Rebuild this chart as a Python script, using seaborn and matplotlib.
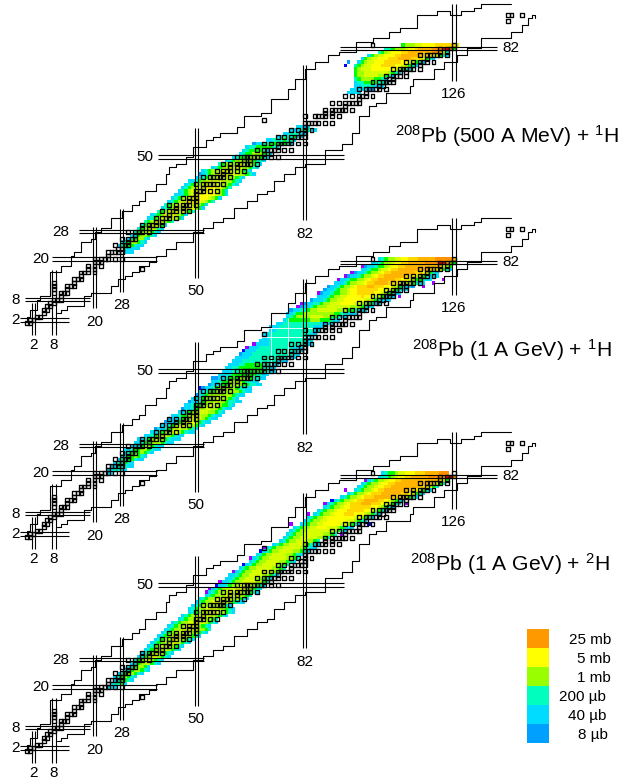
import numpy as np
import pandas as pd
import seaborn as sns
import matplotlib
matplotlib.use("Agg")
import matplotlib.pyplot as plt
from matplotlib.colors import ListedColormap

sns.set_theme(style="white")
plt.rcParams['font.family'] = ['Liberation Sans', 'DejaVu Sans']
plt.rcParams['mathtext.default'] = 'regular'

# colour levels, one letter per level in the row strings below
level_letters = "abcdefghijklm"
level_colors = ["#a000ff", "#0000ff", "#00a0ff", "#00dcff", "#00ffbe", "#00ff00", "#a0ff00",
                "#d8ff00", "#ffff00", "#ffd800", "#ffb400", "#ff9000", "#ff0000"]

legend_labels = ["25 mb", "5 mb", "1 mb", "200 µb", "40 µb", "8 µb"]
legend_colors = ["#ff9900", "#ffff00", "#99ff00", "#00ffbe", "#00dcff", "#00a0ff"]

magic_n = [2, 8, 20, 28, 50, 82, 126]
magic_n_zlow = [-2.4, -2.4, 5.5, 10.2, 14.4, 31.5, 72.4]
magic_n_zhigh = [7, 16.7, 29.4, 34.7, 58.6, 77.1, 95]
magic_n_labelz = [-5.4, -5.4, 1.4, 6.4, 10.5, 27.3, 68.6]

magic_z = [2, 8, 20, 28, 50, 82]
magic_z_nlow = [-2, -0.5, 7.5, 15.4, 38.7, 92.4]
magic_z_nhigh = [12.5, 18.7, 38.4, 52.3, 93.6, 138.7]
magic_z_labeln = [-3.2, -3.2, 4.2, 10.1, 34.9, 142.9]

# limits of the known nuclides
upper_n = [0, 1, 3, 4, 7, 7, 10, 13, 14, 16, 19, 20, 22, 25, 28, 31, 33, 35, 38, 41, 42, 44, 47, 49, 53, 55, 57,
           62, 64, 69, 72, 77, 79, 82, 85, 89, 92, 97, 102, 107, 110, 115, 121, 125, 128, 132, 134, 137, 143]
upper_z = [2, 3, 5, 8, 9, 15, 16, 18, 21, 22, 25, 26, 28, 29, 32, 34, 36, 37, 40, 42, 45, 47, 48, 50, 53, 55, 56,
           57, 59, 62, 63, 67, 70, 73, 76, 78, 80, 81, 84, 85, 87, 88, 92, 93, 92, 93, 94, 95, 95]
lower_n = [9, 10, 12, 16, 17, 19, 22, 25, 27, 29, 31, 33, 36, 38, 41, 44, 49, 52, 55, 58, 61, 65, 68, 71, 73, 76, 79,
           82, 88, 93, 96, 96, 98, 98, 101, 103, 106, 113, 114, 120, 123, 127, 130, 133, 134, 143, 146, 146, 148, 149, 150]
lower_z = [4, 5, 6, 6, 9, 10, 10, 12, 14, 15, 16, 18, 19, 21, 23, 25, 28, 29, 31, 32, 35, 37, 39, 40, 43, 45, 47,
           48, 52, 54, 56, 57, 60, 62, 65, 66, 69, 71, 73, 76, 78, 80, 82, 82, 85, 87, 87, 89, 91, 92, 91]

# stable isotopes, Z -> neutron numbers
stable = {1: [0, 1], 2: [1, 2], 3: [3, 4], 4: [5], 5: [5, 6], 6: [6, 7], 7: [7, 8], 8: [8, 9, 10], 9: [10],
          10: [8, 10, 11, 12], 11: [8, 12], 12: [8, 12, 13, 14], 13: [8, 14], 14: [14, 15, 16], 15: [16],
          16: [16, 17, 18, 20], 17: [18, 20, 34], 18: [18, 20, 22], 19: [20, 21, 22], 20: [20, 22, 23, 24, 26, 28],
          21: [24], 22: [24, 25, 26, 27, 28], 23: [27, 28], 24: [26, 28, 29, 30], 25: [30], 26: [28, 30, 31, 32],
          27: [32], 28: [30, 32, 33, 34, 36], 29: [34, 36], 30: [34, 36, 37, 38, 40], 31: [38, 40],
          32: [38, 40, 41, 42, 44], 33: [42], 34: [40, 42, 43, 44, 46, 48], 35: [44, 46], 36: [42, 44, 46, 47, 48, 50],
          37: [48, 50], 38: [46, 48, 49, 50], 39: [50], 40: [50, 51, 52, 54, 56], 41: [52],
          42: [50, 52, 53, 54, 55, 56, 58], 44: [52, 54, 55, 56, 57, 58, 60], 45: [58], 46: [56, 58, 59, 60, 62, 64],
          47: [60, 62], 48: [58, 60, 62, 63, 64, 65, 66, 68], 49: [64, 66],
          50: [62, 64, 65, 66, 67, 68, 69, 70, 72, 74], 51: [70, 72], 52: [68, 70, 71, 72, 73, 74, 76, 78], 53: [74],
          54: [70, 72, 74, 75, 76, 77, 78, 80, 82], 55: [78], 56: [74, 76, 78, 79, 80, 81, 82], 57: [81, 82],
          58: [78, 80, 82, 84], 59: [82], 60: [82, 83, 84, 85, 86, 88, 90], 61: [70],
          62: [82, 85, 86, 87, 88, 90, 92], 63: [88, 90], 64: [88, 90, 91, 92, 93, 94, 96], 65: [94],
          66: [90, 92, 94, 95, 96, 97, 98], 67: [98], 68: [94, 96, 98, 99, 100, 102], 69: [100],
          70: [98, 100, 101, 102, 103, 104, 106], 71: [104, 105], 72: [102, 104, 105, 106, 107, 108], 73: [107, 108],
          74: [106, 108, 109, 110, 112], 75: [110, 112], 76: [108, 110, 111, 112, 113, 114, 116], 77: [114, 116],
          78: [112, 114, 116, 117, 118, 120], 79: [118], 80: [116, 118, 119, 120, 121, 122, 124], 81: [122, 124],
          82: [122, 124, 125, 126], 83: [102, 126], 90: [142], 92: [142, 143, 146]}

# cross sections per row: (Z, first N, one letter per nuclide)
panel1_rows = [
    (22, 29, "ddd"), (23, 29, "edddd"), (24, 27, "defffedd"), (25, 28, "defggfed"), (26, 30, "defgged"),
    (27, 31, "defggfed"), (28, 32, "efgghfed"), (29, 33, "efgghged"), (30, 34, "efghhhfd"), (31, 35, "efghhhgfe"),
    (32, 36, "defghhhhgfd"), (33, 37, "defghhhhgfd"), (34, 39, "efghhhhhgfe"), (35, 40, "defghhhhhhgfd"),
    (36, 41, "efghhhiihhgfd"), (37, 42, "defghhiiiihgfe"), (38, 43, "defghhiiiiihgfd"), (39, 44, "ddefghiiiiiihgfd"),
    (40, 45, "defghhiiiiihgfd"), (41, 46, "defghhhiiihhgfe"), (42, 47, "defgghhhhhhggfed"),
    (43, 48, "ddefgghhhhhggfed"), (44, 50, "ddefgghhhhggfed"), (45, 51, "cdefgghhhhhhggfed"),
    (46, 52, "defgghhhhhggfed"), (47, 55, "defgghhhhggfed"), (48, 57, "efgggghhggfed"), (49, 59, "defgggggfeed"),
    (50, 61, "defffgggfed"), (51, 63, "deffgggfed"), (52, 64, "deffffed"), (53, 65, "deefffffed"),
    (54, 67, "cddeefffffed"), (55, 71, "ddeeefeed"), (56, 74, "ddeeefdd"), (57, 76, "ddeeedd"), (58, 78, "dddeeedd"),
    (59, 80, "dddd"),
    (69, 95, "dddd"), (70, 96, "dddddcc"), (71, 97, "ddeeeeddd"), (72, 97, "deeffffeed"), (73, 97, "efggggffed"),
    (74, 97, "fgghhhhggfed"), (75, 97, "fgghhhhhhhgfed"), (76, 97, "fghhhiiiiiiihgfed"),
    (77, 94, "b  efghhiiijjjjiihgfed"), (78, 95, "c  dfghhiiijjjjjiihgfed"), (79, 99, "dfghhiiijjjkkkkjjihfed"),
    (80, 101, "dfghhiiijjkkkkkkjjjihfed"), (81, 104, "efghiiijjkkkkkkkllkge"), (82, 106, "eefggghiijkkkklllmmkf"),
    (83, 111, "fggghhiiiijjjjjjh"),
]
panel2_rows = [
    (20, 24, "dd"), (21, 24, "ddeedd"), (22, 25, "ddeeedd"), (23, 26, "deefed"), (24, 27, "deeffedd"),
    (25, 28, "deffgfed"), (26, 29, "defffgfed"), (27, 29, "ddeffggfedd"), (28, 31, "ddefggfedd"),
    (29, 32, "ddeffgggfedd"), (30, 33, "ddefghggfeddd"), (31, 35, "ddefghhgfedd"), (32, 37, "ddefgghhgfedd"),
    (33, 38, "cddefghhggfed"), (34, 40, "ddefghhhggfed"), (35, 41, "cddefghhhgfedd"), (36, 42, "cddefgghhhgfedd"),
    (37, 43, "ddeffghhhggfedd"), (38, 45, "ddefgghhhggfed"), (39, 46, "cddefgghhggfedd"), (40, 47, "ddeffgghhggffed"),
    (41, 48, "cddefggghggfeedd"), (42, 49, "ddefggghgggfed"), (43, 50, "cdefgggggggfedd"), (44, 51, "ddeffgggggggfedd"),
    (45, 52, "cddefgggggfeedd"), (46, 54, "cddeffggggffeedd"), (47, 55, "ddeffggggfeedd"), (48, 56, "cddefffgggfeedd"),
    (49, 57, "dddefffffffeedd"), (50, 58, "dddeefffffffeedd"), (51, 59, "ddeefffffffeedd"), (52, 60, "dddeefffffeeedd"),
    (53, 61, "dddeeeeeeeeeedddc"), (54, 62, "ddddeeeeeeeeeeeddd"), (55, 63, "cdddeeeeeeeeeeeedd"),
    (56, 65, "dddeeeeeeeeeeeedd"), (57, 66, "dddeeeeeeeeeeddd"), (58, 68, "ddddeeeeeeeeeeedd"),
    (59, 69, "dddeeeeeeeeeeedd"), (60, 70, "ddeeeeeeeeeeedd"), (61, 70, "ddeeeeeeeeeeeedd"), (62, 72, "ddeeeeeeeeeeedd"),
    (63, 72, "dddeeeeeeeeeeddd"), (64, 74, "ddeeeeeeeeeeedddd"), (65, 76, "deffffffgggfffedd"),
    (66, 77, "defgggghhhhggffedd"), (67, 77, "ddeffgggggggggffeeddd"), (68, 78, "cddeefgghhhhhhgggffeddd"),
    (69, 81, "cddefggghhhhhhhgggfedd"), (70, 82, "cddeefgghhhiiiihhggfedd"), (71, 84, "cdddefgghhiiiiiihhgfeddd"),
    (72, 86, "dddefgghhiiiijiihhgfedd"), (73, 87, "cddeffgghiijjjjjiihgfedd"), (74, 88, "cddefgghiijjjjjjiihhgfedd"),
    (75, 89, "cddefgghijjjkkjjjiihgfeddc"), (76, 91, "dddefgghhijjkkkkjjjihhgfedd"), (77, 93, "ddeffgghijjkkkkkjjiihgffedd"),
    (78, 95, "cddefgghijjkkkkkkjjihgfeddd"), (79, 97, "cddefgghijjkkkkkkkjjihfed"), (80, 99, "ddeffghhijjkkkkkkkkkjjihfed"),
    (81, 100, "cddeffghiijjkkkkkkkkkkjhgf"), (82, 102, "ddefgghiijjkkkkkllllmmkgf"), (83, 104, "defgghhiijjjkkkkklllllk"),
]
panel3_rows = [
    (20, 24, "ddd"), (21, 25, "deefd"), (22, 26, "deffed"), (23, 26, "defgfed"), (24, 27, "defggfed"),
    (25, 29, "defggfed"), (26, 30, "defggfd"), (27, 31, "defgghfed"), (28, 32, "efghhgfed"), (29, 33, "defghhgfed"),
    (30, 34, "defghhgfed"), (31, 35, "defgghhgfed"), (32, 36, "defghhhgfed"), (33, 37, "defgghhhgfed"),
    (34, 38, "defgghhhgfed"), (35, 39, "defgghhhhgfed"), (36, 40, "defgghhhhggfed"), (37, 41, "defgghhhhhggfe"),
    (38, 42, "defgghhhhgfed"), (39, 43, "defgghhhhhgfed"), (40, 45, "defgghhhggfe"), (41, 46, "defgghhhhggfed"),
    (42, 48, "defgghhhhggfed"), (43, 48, "defgghhhhggfed"), (44, 49, "defggggggfed"), (45, 50, "defgghhhhggfedd"),
    (46, 51, "defgghhhhhggfed"), (47, 53, "defggghhhhggfe"), (48, 54, "defgghhhhhggfed"), (49, 55, "defgghhhhhggfed"),
    (50, 57, "ddefgghhhggfed"), (51, 58, "ddefgghhhhggfe"), (52, 59, "ddefgghhhggfed"), (53, 60, "ddefgghhhhggfed"),
    (54, 62, "defgghhhhhggfe"), (55, 63, "defgghhhhhggfe"), (56, 65, "defgghhhhggfe"), (57, 66, "defgghhhhggfed"),
    (58, 67, "defgghhhhhggfe"), (59, 68, "defgghhhhggfed"), (60, 70, "defgghhhhggfed"), (61, 71, "defgghhhhhgfedd"),
    (62, 73, "defgghhhhgfedd"), (63, 75, "defgghhhggfe"), (64, 76, "defgghhhhhggfe"), (65, 77, "defgghhhhhhggfe"),
    (66, 78, "defgghhhhhhhggfed"), (67, 79, "defgghhiiihhhgfedd"), (68, 81, "defgghhiiiiihhgfed"),
    (69, 82, "defgghhiiiiiihhgfed"), (70, 83, "defgghiiiiiiiihhgfed"), (71, 85, "defgghiiijjjiiihgfed"),
    (72, 86, "defgghiiijjjjjiihgfed"), (73, 88, "defgghiijjjjjjiihgfed"), (74, 89, "defgghijjjkkkjjjihgfed"),
    (75, 91, "defgghijjkkkkjjihgfed"), (76, 93, "defgghijjjkkkkkjjiihfed"), (77, 95, "defgghijjjkkkkkkjjihfed"),
    (78, 97, "defgghijjkkkkkkkjjihfed"), (79, 98, "defgghiijjkkkkkkkkjjihfe"), (80, 99, "defgghiijjkkkkkkkkkkjjhfe"),
    (81, 101, "defgghiijjkkkkkkkkkkkjhf"), (82, 104, "deefghiijjkkkkklllllmmk"), (83, 105, "deffghhiiijjjkkkklll"),
]

# isolated low cross section points along the edges of the distributions
panel1_spec_n = [47, 43, 51]
panel1_spec_z = [42, 38, 45]
panel1_spec_l = ["a", "a", "c"]
panel2_spec_n = [99, 96, 94, 92, 92, 89, 86, 84, 81, 80, 78, 110, 114, 117, 120, 123,
                 59, 60, 64, 65, 67, 70, 73, 75, 80, 69, 64, 55, 51]
panel2_spec_z = [81, 79, 78, 77, 76, 75, 73, 71, 70, 69, 67, 72, 75, 75, 76, 77,
                 51, 52, 55, 57, 58, 60, 63, 64, 68, 59, 56, 48, 45]
panel2_spec_l = ["a"] * 16 + ["a", "a", "a", "a", "a", "a", "a", "a", "a", "b", "b", "c", "b"]
panel3_spec_n = [100, 94, 90, 88, 83, 78, 112, 108, 101, 93, 70, 66, 61, 57, 54, 53, 69, 64, 60, 56, 51, 50]
panel3_spec_z = [81, 78, 75, 74, 71, 68, 74, 73, 68, 65, 61, 58, 54, 51, 49, 48, 60, 56, 53, 50, 46, 45]
panel3_spec_l = ["a", "a", "b", "a", "a", "a", "a", "a", "b", "a", "a", "a", "a", "a", "a", "a",
                 "b", "b", "b", "b", "b", "c"]

# thin white gaps through the low cross section part of the middle panel
panel2_gap_n = [72.7, 77.6]
panel2_gap_z = [60.6, 63.3]

panel_rows = [panel1_rows, panel2_rows, panel3_rows]
panel_specs = [(panel1_spec_n, panel1_spec_z, panel1_spec_l),
               (panel2_spec_n, panel2_spec_z, panel2_spec_l),
               (panel3_spec_n, panel3_spec_z, panel3_spec_l)]
panel_titles = ["$^{208}$Pb (500 A MeV) + $^{1}$H", "$^{208}$Pb (1 A GeV) + $^{1}$H", "$^{208}$Pb (1 A GeV) + $^{2}$H"]
title_x = [395, 412, 410]
title_y = [143, 357, 571]

W, H = 619, 783
PX_N, PX_Z = 3.39, 3.394
PANEL_SHIFT = 214


def rows_to_frame(rows, spec):
    grid = pd.DataFrame(np.nan, index=range(100), columns=range(170))
    for z, first_n, levels in rows:
        for i, ch in enumerate(levels):
            if ch != " ":
                grid.loc[z, first_n + i] = level_letters.index(ch)
    for n, z, ch in zip(*spec):
        if pd.isna(grid.loc[z, n]):
            grid.loc[z, n] = level_letters.index(ch)
    return grid


stable_n = [n for z, ns in stable.items() for n in ns]
stable_z = [z for z, ns in stable.items() for n in ns]
stable_df = pd.DataFrame({"N": stable_n, "Z": stable_z})

fig = plt.figure(figsize=(W / 100, H / 100), dpi=100)
cmap = ListedColormap(level_colors)

for i in range(3):
    ax = fig.add_axes([0, 0, 1, 1])
    ax.patch.set_alpha(0)
    grid = rows_to_frame(panel_rows[i], panel_specs[i])
    # heatmap cell N spans N..N+1, so everything else sits at +0.5
    sns.heatmap(grid, ax=ax, cmap=cmap, vmin=-0.5, vmax=12.5, cbar=False,
                xticklabels=False, yticklabels=False)

    if i == 1:
        ax.vlines(panel2_gap_n, 52, 66, color="white", lw=0.6, zorder=2)
        ax.hlines(panel2_gap_z, 69, 86, color="white", lw=0.6, zorder=2)

    sns.lineplot(x=np.array(upper_n) + 0.5, y=np.array(upper_z) + 0.5, ax=ax, color="black", lw=0.8,
                 sort=False, estimator=None, drawstyle="steps-pre")
    sns.lineplot(x=np.array(lower_n) + 0.5, y=np.array(lower_z) + 0.5, ax=ax, color="black", lw=0.8,
                 sort=False, estimator=None, drawstyle="steps-post")

    sns.scatterplot(data=stable_df.assign(N=stable_df.N + 0.5, Z=stable_df.Z + 0.5), x="N", y="Z", ax=ax,
                    marker="s", s=8, facecolor="none", edgecolor="black", linewidth=0.95, zorder=4)

    for n, lo, hi, lab in zip(magic_n, magic_n_zlow, magic_n_zhigh, magic_n_labelz):
        ax.vlines([n, n + 1], lo + 0.5, hi + 0.5, color="black", lw=0.8, zorder=3)
        ax.text(n + 0.5, lab + 0.5, str(n), ha="center", va="center", fontsize=11, color="black")
    for z, lo, hi, lab in zip(magic_z, magic_z_nlow, magic_z_nhigh, magic_z_labeln):
        ax.hlines([z, z + 1], lo + 0.5, hi + 0.5, color="black", lw=0.8, zorder=3)
        ax.text(lab + 0.5, z + 0.5, str(z), ha="center", va="center", fontsize=11, color="black")

    # same pixel scale in all panels, just moved down
    x0 = 2.5 - 33.5 / PX_N
    ax.set_xlim(x0, x0 + W / PX_N)
    shift = PANEL_SHIFT * i
    ax.set_ylim(2.5 + (320 + shift - H) / PX_Z, 2.5 + (320 + shift) / PX_Z)
    ax.axis("off")

    fig.text(title_x[i] / W, 1 - title_y[i] / H, panel_titles[i], fontsize=15.2, color="black",
             ha="left", va="baseline")

# legend
leg = fig.add_axes([527 / W, 1 - 743 / H, 22 / W, 114 / H])
sns.heatmap(pd.DataFrame(np.arange(6)[:, None]), ax=leg, cmap=ListedColormap(legend_colors), cbar=False,
            xticklabels=False, yticklabels=False)
leg.axis("off")
legend_right = [611, 611, 611, 606, 606, 608]
for k, lab in enumerate(legend_labels):
    fig.text(legend_right[k] / W, 1 - (640 + k * 19) / H, lab, fontsize=11, ha="right", va="center", color="black")

fig.savefig("out.png", dpi=100)
